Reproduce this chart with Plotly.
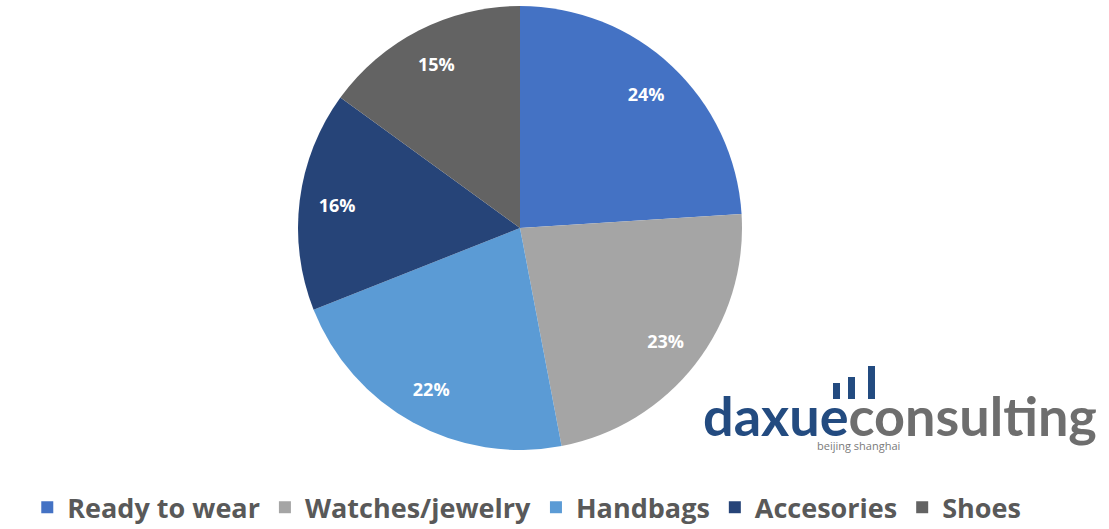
import plotly.graph_objects as go

categories = ["Ready to wear", "Watches/jewelry", "Handbags", "Accesories", "Shoes"]
shares = [24, 23, 22, 16, 15]
colors = ["#4472C4", "#A5A5A5", "#5B9BD5", "#264478", "#636363"]

W, H = 1109, 529
cx, cy, r = 520, 228, 222
dom = dict(x=[(cx - r) / W, (cx + r) / W], y=[1 - (cy + r) / H, 1 - (cy - r) / H])

fig = go.Figure()
fig.add_trace(go.Pie(
    labels=categories,
    values=shares,
    marker=dict(colors=colors, line=dict(color="white", width=0)),
    sort=False,
    direction="clockwise",
    rotation=0,
    textinfo="none",
    domain=dom,
    hoverinfo="label+percent",
))
# transparent ring carrying the value labels further out, like the original
fig.add_trace(go.Pie(
    labels=categories,
    values=shares,
    hole=0.66,
    marker=dict(colors=["rgba(0,0,0,0)"] * len(shares), line=dict(width=0)),
    sort=False,
    direction="clockwise",
    rotation=0,
    texttemplate="%{value}%",
    textposition="inside",
    insidetextorientation="horizontal",
    textfont=dict(family="Open Sans", size=18, color="white", weight="bold"),
    domain=dom,
    showlegend=False,
    hoverinfo="skip",
))

fig.update_layout(
    width=W, height=H,
    margin=dict(l=0, r=0, t=0, b=0, autoexpand=False),
    paper_bgcolor="white",
    plot_bgcolor="white",
    showlegend=True,
    legend=dict(
        orientation="h", x=0.475, xanchor="center", y=-0.006, yanchor="bottom",
        font=dict(family="Open Sans", size=27, color="#595959", weight="bold"),
        traceorder="normal",
    ),
    font=dict(family="Open Sans"),
)

# watermark logo
fig.add_annotation(
    x=701 / W, y=1 - 450 / H, xref="paper", yref="paper", xanchor="left", yanchor="bottom",
    text="<span style='color:#234B80'>daxue</span><span style='color:#6E6E6E'>consulting</span>",
    showarrow=False, font=dict(family="Lato", size=54, weight="bold"),
)
fig.add_annotation(
    x=815 / W, y=1 - 446 / H, xref="paper", yref="paper", xanchor="left", yanchor="middle",
    text="beijing shanghai", showarrow=False,
    font=dict(family="Open Sans", size=11, color="#7a7a7a"),
)
for x0, y0 in [(833, 383), (848, 377), (868, 366)]:
    fig.add_shape(type="rect", xref="paper", yref="paper",
                  x0=x0 / W, x1=(x0 + 7) / W, y0=1 - 399 / H, y1=1 - y0 / H,
                  fillcolor="#234B80", line=dict(width=0))

fig.write_html("out.html")
